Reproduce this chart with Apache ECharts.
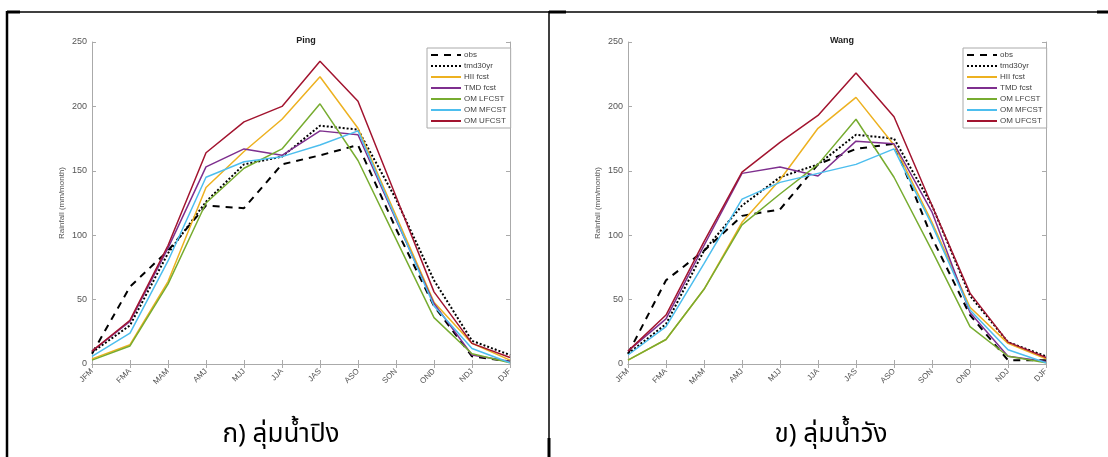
<!DOCTYPE html>
<html>
<head>
<meta charset="utf-8">
<style>
  html, body { margin: 0; padding: 0; background: #ffffff; }
  #chart { width: 1108px; height: 457px; }
</style>
<script src="https://cdn.jsdelivr.net/npm/echarts@6/dist/echarts.min.js"></script>
</head>
<body>
<div id="chart"></div>
<script>
// ---------- data ----------
const categories = ['JFM','FMA','MAM','AMJ','MJJ','JJA','JAS','ASO','SON','OND','NDJ','DJF'];
const seriesNames = ['obs','tmd30yr','HII fcst','TMD fcst','OM LFCST','OM MFCST','OM UFCST'];
const panelTitles = ['Ping','Wang'];
const captions = ['ก) ลุ่มน้ำปิง','ข) ลุ่มน้ำวัง'];
const yAxisName = 'Rainfall (mm/month)';

// Ping basin
const pingObs      = [8, 60, 88, 123, 121, 155, 162, 170, 105, 45, 6, 2];
const pingTmd30yr  = [9, 30, 86, 126, 155, 161, 185, 182, 128, 65, 18, 7];
const pingHii      = [4, 15, 64, 137, 165, 190, 223, 183, 115, 48, 16, 3];
const pingTmd      = [10, 33, 90, 153, 167, 162, 181, 178, 112, 47, 7, 2];
const pingOmL      = [3, 14, 62, 125, 152, 167, 202, 158, 97, 36, 8, 1];
const pingOmM      = [6, 24, 80, 145, 157, 161, 170, 181, 113, 45, 12, 1];
const pingOmU      = [10, 34, 92, 164, 188, 200, 235, 204, 130, 56, 16, 5];

// Wang basin
const wangObs      = [8, 65, 88, 115, 120, 155, 167, 171, 98, 38, 3, 3];
const wangTmd30yr  = [8, 31, 88, 123, 145, 155, 178, 175, 123, 53, 17, 6];
const wangHii      = [3, 19, 58, 110, 143, 183, 207, 170, 110, 44, 16, 4];
const wangTmd      = [10, 35, 92, 148, 153, 146, 173, 171, 118, 40, 6, 2];
const wangOmL      = [3, 19, 58, 108, 132, 155, 190, 145, 88, 29, 6, 1];
const wangOmM      = [7, 29, 78, 128, 141, 148, 155, 167, 108, 42, 11, 1];
const wangOmU      = [10, 38, 95, 149, 172, 193, 226, 192, 123, 55, 17, 5];

const pingData = [pingObs, pingTmd30yr, pingHii, pingTmd, pingOmL, pingOmM, pingOmU];
const wangData = [wangObs, wangTmd30yr, wangHii, wangTmd, wangOmL, wangOmM, wangOmU];

// ---------- styles ----------
const lineStyles = [
  { color: '#000000', width: 2, type: [7, 6] },
  { color: '#000000', width: 2, type: [2, 2] },
  { color: '#EDB120', width: 1.5, type: 'solid' },
  { color: '#7E2F8E', width: 1.5, type: 'solid' },
  { color: '#77AC30', width: 1.5, type: 'solid' },
  { color: '#4DBEEE', width: 1.5, type: 'solid' },
  { color: '#A2142F', width: 1.5, type: 'solid' }
];

const FONT = '"Liberation Sans", Arial, Helvetica, sans-serif';
const THAI_FONT = '"Noto Sans Thai", "Noto Sans Thai UI", "Loma", "Garuda", "Norasi", "Kinnari", "TH Sarabun New", "Tlwg Typo", "Noto Sans", "DejaVu Sans", sans-serif';
const AXIS_COLOR = '#aaaaaa';
const LABEL_COLOR = '#555555';

const panels = [
  { left: 92, data: pingData, legendLeft: 427 },
  { left: 628, data: wangData, legendLeft: 963 }
];
const GRID_TOP = 42, GRID_W = 418, GRID_H = 322;

const grids = [], xAxes = [], yAxes = [], series = [], titles = [], legends = [];

panels.forEach((p, i) => {
  grids.push({ left: p.left, top: GRID_TOP, width: GRID_W, height: GRID_H, containLabel: false });

  xAxes.push({
    type: 'category', gridIndex: i, data: categories, boundaryGap: false, position: 'bottom',
    axisLine: { lineStyle: { color: AXIS_COLOR, width: 1 } },
    axisTick: { inside: true, length: 4, lineStyle: { color: AXIS_COLOR } },
    axisLabel: { rotate: 45, fontSize: 8, color: LABEL_COLOR, fontFamily: FONT, margin: 6 },
    splitLine: { show: false }
  });
  xAxes.push({
    type: 'category', gridIndex: i, data: categories, boundaryGap: false, position: 'top',
    axisLine: { lineStyle: { color: AXIS_COLOR, width: 1 } },
    axisTick: { inside: true, length: 4, lineStyle: { color: AXIS_COLOR } },
    axisLabel: { show: false }, splitLine: { show: false }
  });
  yAxes.push({
    type: 'value', gridIndex: i, min: 0, max: 250, interval: 50, position: 'left',
    name: yAxisName, nameLocation: 'middle', nameGap: 26, nameRotate: 90,
    nameTextStyle: { fontSize: 8, color: LABEL_COLOR, fontFamily: FONT },
    axisLine: { show: true, lineStyle: { color: AXIS_COLOR, width: 1 } },
    axisTick: { show: true, inside: true, length: 4, lineStyle: { color: AXIS_COLOR } },
    axisLabel: { fontSize: 9, color: LABEL_COLOR, fontFamily: FONT, margin: 5 },
    splitLine: { show: false }
  });
  yAxes.push({
    type: 'value', gridIndex: i, min: 0, max: 250, interval: 50, position: 'right',
    axisLine: { show: true, lineStyle: { color: AXIS_COLOR, width: 1 } },
    axisTick: { show: true, inside: true, length: 4, lineStyle: { color: AXIS_COLOR } },
    axisLabel: { show: false }, splitLine: { show: false }
  });

  seriesNames.forEach((name, k) => {
    series.push({
      type: 'line', name: name, xAxisIndex: i * 2, yAxisIndex: i * 2,
      data: p.data[k], symbol: 'none', showSymbol: false, smooth: false,
      lineStyle: lineStyles[k], itemStyle: { color: lineStyles[k].color },
      emphasis: { disabled: true }, animation: false, z: 2 + k
    });
  });

  titles.push({
    text: panelTitles[i], left: p.left + GRID_W / 2, top: 31, textAlign: 'center',
    textStyle: { fontSize: 9, fontWeight: 'bold', color: '#222222', fontFamily: FONT }
  });
  titles.push({
    text: captions[i], left: i === 0 ? 276 : 826, top: 419, textAlign: 'center',
    textStyle: { fontSize: 26, fontWeight: 'normal', color: '#000000', fontFamily: THAI_FONT }
  });

  legends.push({
    orient: 'vertical', left: p.legendLeft, top: 48, data: seriesNames,
    itemWidth: 30, itemHeight: 8, itemGap: 3, padding: [3, 4, 3, 3],
    borderColor: '#aaaaaa', borderWidth: 1, backgroundColor: '#ffffff',
    selectedMode: false,
    itemStyle: { opacity: 0, borderWidth: 0 },
    textStyle: { fontSize: 8, color: '#444444', fontFamily: FONT, padding: [0, 0, 0, -2] }
  });
});

const chart = echarts.init(document.getElementById('chart'), null, { renderer: 'canvas' });
chart.setOption({
  animation: false,
  backgroundColor: '#ffffff',
  title: titles,
  legend: legends,
  grid: grids,
  xAxis: xAxes,
  yAxis: yAxes,
  series: series,
  graphic: [
    { type: 'line', shape: { x1: 7, y1: 12, x2: 1108, y2: 12 }, style: { stroke: '#000', lineWidth: 1.5 }, silent: true },
    { type: 'line', shape: { x1: 7, y1: 12, x2: 20, y2: 12 }, style: { stroke: '#000', lineWidth: 3 }, silent: true },
    { type: 'line', shape: { x1: 549, y1: 12, x2: 566, y2: 12 }, style: { stroke: '#000', lineWidth: 3 }, silent: true },
    { type: 'line', shape: { x1: 1097, y1: 12, x2: 1108, y2: 12 }, style: { stroke: '#000', lineWidth: 3 }, silent: true },
    { type: 'line', shape: { x1: 7, y1: 11, x2: 7, y2: 457 }, style: { stroke: '#000', lineWidth: 2.5 }, silent: true },
    { type: 'line', shape: { x1: 549, y1: 11, x2: 549, y2: 457 }, style: { stroke: '#000', lineWidth: 1.5 }, silent: true },
    { type: 'line', shape: { x1: 549, y1: 438, x2: 549, y2: 457 }, style: { stroke: '#000', lineWidth: 3 }, silent: true }
  ]
});
</script>
</body>
</html>
